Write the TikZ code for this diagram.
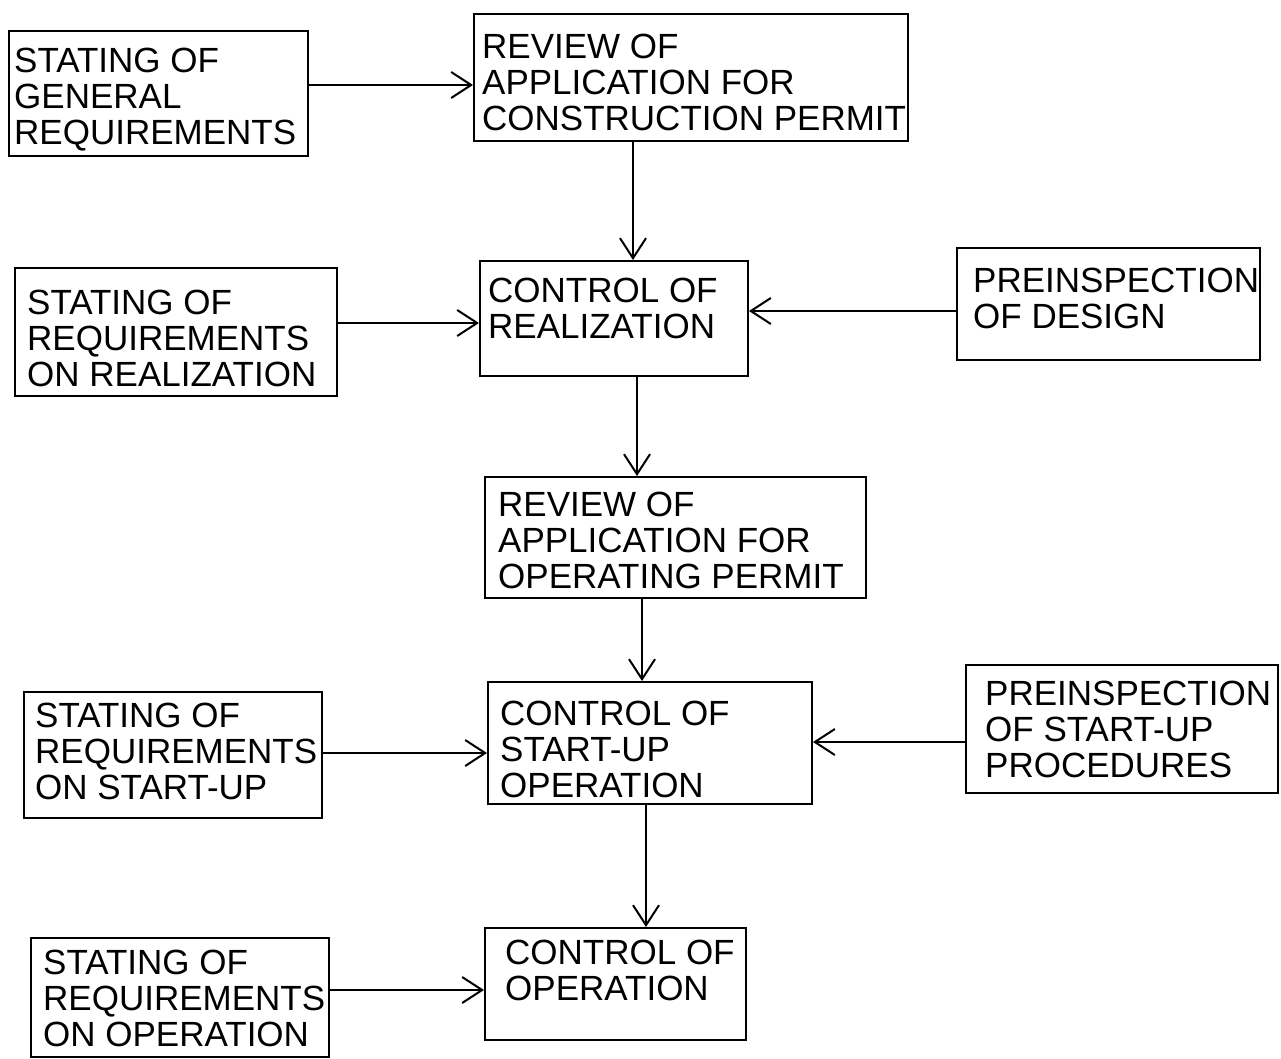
\documentclass[tikz,border=0pt]{standalone}
\usepackage{fontspec}
\setmainfont{Liberation Sans}
\usetikzlibrary{arrows.meta}
\begin{document}
\begin{tikzpicture}[x=1pt,y=-1pt,
  box/.style={draw, line width=2pt, inner sep=0pt, rectangle},
  lbl/.style={anchor=north west, inner sep=0pt, align=left,
    font=\fontsize{35pt}{36pt}\selectfont},
  arr/.style={line width=2pt, -{Straight Barb[length=20pt,width=26pt,line width=2pt]}}]
\useasboundingbox (0,0) rectangle (1281,1059);

% boxes
\node[box, minimum width=299pt, minimum height=125pt] (A) at (158.5,93.5) {};
\node[box, minimum width=434pt, minimum height=127pt] (B) at (691,77.5) {};
\node[box, minimum width=268pt, minimum height=115pt] (C) at (614,318.5) {};
\node[box, minimum width=322pt, minimum height=128pt] (D) at (176,332) {};
\node[box, minimum width=303pt, minimum height=112pt] (E) at (1108.5,304) {};
\node[box, minimum width=381pt, minimum height=121pt] (F) at (675.5,537.5) {};
\node[box, minimum width=324pt, minimum height=122pt] (G) at (650,743) {};
\node[box, minimum width=298pt, minimum height=126pt] (H) at (173,755) {};
\node[box, minimum width=312pt, minimum height=128pt] (I) at (1122,729) {};
\node[box, minimum width=261pt, minimum height=112pt] (J) at (615.5,984) {};
\node[box, minimum width=298pt, minimum height=119pt] (K) at (180,997.5) {};

% texts
\node[lbl] (At) at (14,48) {STATING OF\\GENERAL\\REQUIREMENTS};
\node[lbl] (Bt) at (482,34) {REVIEW OF\\APPLICATION FOR\\CONSTRUCTION PERMIT};
\node[lbl] (Ct) at (488,278) {CONTROL OF\\REALIZATION};
\node[lbl] (Dt) at (27,290) {STATING OF\\REQUIREMENTS\\ON REALIZATION};
\node[lbl] (Et) at (973,268) {PREINSPECTION\\OF DESIGN};
\node[lbl] (Ft) at (498,492) {REVIEW OF\\APPLICATION FOR\\OPERATING PERMIT};
\node[lbl] (Gt) at (500,701) {CONTROL OF\\START-UP\\OPERATION};
\node[lbl] (Ht) at (35,703) {STATING OF\\REQUIREMENTS\\ON START-UP};
\node[lbl] (It) at (985,681) {PREINSPECTION\\OF START-UP\\PROCEDURES};
\node[lbl] (Jt) at (505,940) {CONTROL OF\\OPERATION};
\node[lbl] (Kt) at (43,950) {STATING OF\\REQUIREMENTS\\ON OPERATION};

% connector levels
\coordinate (yAB) at (0,85);
\coordinate (yDC) at (0,323);
\coordinate (yEC) at (0,311);
\coordinate (yHG) at (0,753);
\coordinate (yIG) at (0,742);
\coordinate (yKJ) at (0,990);
\coordinate (xBC) at (633,0);
\coordinate (xCF) at (637,0);
\coordinate (xFG) at (642,0);
\coordinate (xGJ) at (646,0);

% connectors
\draw[arr] (A.east |- yAB) -- (B.west |- yAB);
\draw[arr] (D.east |- yDC) -- (C.west |- yDC);
\draw[arr] (E.west |- yEC) -- (C.east |- yEC);
\draw[arr] (H.east |- yHG) -- (G.west |- yHG);
\draw[arr] (I.west |- yIG) -- (G.east |- yIG);
\draw[arr] (K.east |- yKJ) -- (J.west |- yKJ);
\draw[arr] (B.south -| xBC) -- (C.north -| xBC);
\draw[arr] (C.south -| xCF) -- (F.north -| xCF);
\draw[arr] (F.south -| xFG) -- (G.north -| xFG);
\draw[arr] (G.south -| xGJ) -- (J.north -| xGJ);
\end{tikzpicture}
\end{document}
